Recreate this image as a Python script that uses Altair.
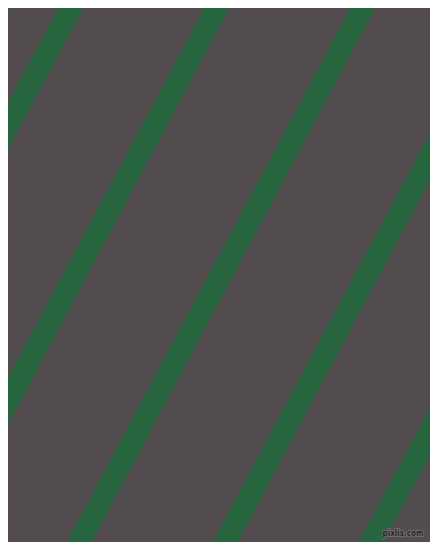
import altair as alt
import pandas as pd

# Stripe centre x-positions read at the top (y=0) and bottom (y=550) edges
stripe_x_top = [75.5, 221.5, 367.5, 513.5, 659.5]
stripe_x_bottom = [-216.5, -70.5, 75.5, 221.5, 367.5]
stripe_y_top = [0, 0, 0, 0, 0]
stripe_y_bottom = [550, 550, 550, 550, 550]

watermark_text = ["pixlis.com"]
watermark_x = [403]
watermark_y = [534]

BG = "#534D4F"
GREEN = "#27663F"

stripes = pd.DataFrame({
    "x": stripe_x_top, "x2": stripe_x_bottom,
    "y": stripe_y_top, "y2": stripe_y_bottom,
})
wm = pd.DataFrame({"t": watermark_text, "x": watermark_x, "y": watermark_y})

# The page has an 8px margin, so the chart shows the window region 8..430 x 8..542
xs = alt.Scale(domain=[8, 430], nice=False, zero=False)
ys = alt.Scale(domain=[8, 542], nice=False, zero=False, reverse=True)

lines = alt.Chart(stripes).mark_rule(
    color=GREEN, strokeWidth=22, strokeCap="square", clip=True
).encode(
    x=alt.X("x:Q", scale=xs, axis=None),
    x2="x2:Q",
    y=alt.Y("y:Q", scale=ys, axis=None),
    y2="y2:Q",
)

text_halo = alt.Chart(wm).mark_text(
    fontSize=8, font="DejaVu Sans Condensed", fontWeight="bold",
    stroke="#7a7476", strokeWidth=1.5, color="#7a7476"
).encode(
    x=alt.X("x:Q", scale=xs, axis=None),
    y=alt.Y("y:Q", scale=ys, axis=None),
    text="t:N",
)
text = alt.Chart(wm).mark_text(
    fontSize=8, font="DejaVu Sans Condensed", fontWeight="bold", color="#2a2628"
).encode(
    x=alt.X("x:Q", scale=xs, axis=None),
    y=alt.Y("y:Q", scale=ys, axis=None),
    text="t:N",
)

chart = alt.layer(lines, text_halo, text).properties(
    width=422, height=534, background=BG, padding=0,
    autosize=alt.AutoSizeParams(type="none"),
).configure_view(stroke=None, fill=BG)

chart.save("out.html", embed_options={"renderer": "svg", "actions": False})
